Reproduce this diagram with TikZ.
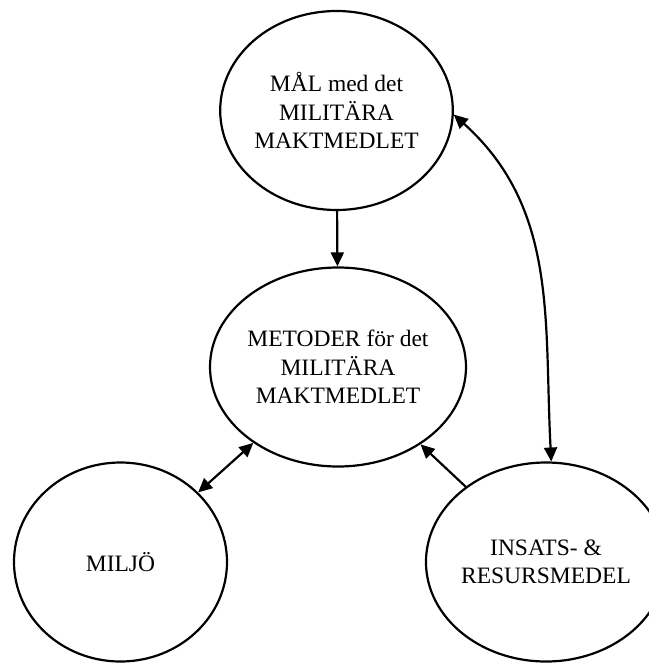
\documentclass[tikz,border=0pt]{standalone}
\usepackage{fontspec}
\setmainfont{Liberation Serif}
\usetikzlibrary{arrows.meta, shapes.geometric, positioning}

\begin{document}
\begin{tikzpicture}[x=1pt, y=-1pt,
  goal/.style={ellipse, draw, line width=2.2pt, minimum width=213pt, minimum height=199pt,
    inner sep=0pt, align=center, font=\fontsize{23.5}{28.3}\selectfont},
  link/.style={line width=2.2pt, -{Triangle[length=14pt, width=13pt]}},
  twoway/.style={line width=2.2pt, {Triangle[length=14pt, width=13pt]}-{Triangle[length=14pt, width=13pt]}}]
\useasboundingbox (0,0) rectangle (648,666);
% nodes
\node[goal] (mal) at (336.5,110.5) {MÅL med det\\MILITÄRA\\MAKTMEDLET};
\node[goal] (metod) at (338,367) {METODER för det\\MILITÄRA\\MAKTMEDLET};
\node[goal] (miljo) at (120.5,562) {MILJÖ};
\node[goal, minimum width=205pt] (resurs) at (546,562) {INSATS- \&\\RESURSMEDEL};
% arrows
\draw[link] (mal) -- (metod);
\draw[twoway] (miljo) -- (metod);
\draw[link] (resurs) -- (metod);
\draw[twoway] (mal.-2) to[out=-42, in=93] (resurs.87);
\end{tikzpicture}
\end{document}
